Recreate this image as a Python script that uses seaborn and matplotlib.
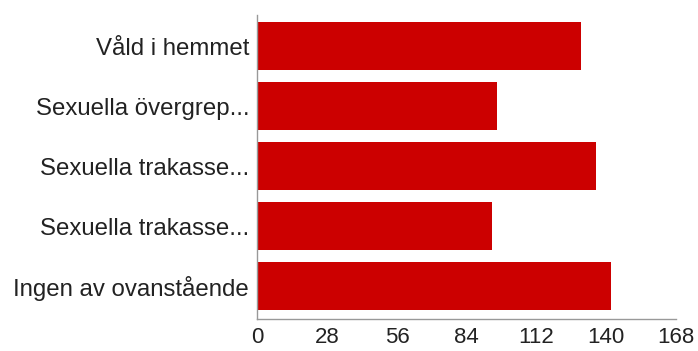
import pandas as pd
import matplotlib
matplotlib.use("Agg")
import matplotlib.pyplot as plt
import seaborn as sns

# data
labels = ["Våld i hemmet", "Sexuella övergrep...", "Sexuella trakasse...",
          "Sexuella trakasse...", "Ingen av ovanstående"]
counts = [130, 96, 136, 94, 142]
xticks = [0, 28, 56, 84, 112, 140, 168]

sns.set_style("white")
plt.rcParams['font.family'] = ['Liberation Sans', 'DejaVu Sans']

df = pd.DataFrame({"pos": list(range(len(labels))), "count": counts})

fig = plt.figure(figsize=(6.98, 3.51), dpi=100)
ax = fig.add_axes([0.3687, 0.0912, 0.6, 0.866])
sns.barplot(data=df, x="count", y="pos", orient="h", color="#cc0000",
            saturation=1, width=0.8, edgecolor="none", ax=ax)

ax.set_xlim(0, 168)
ax.set_ylim(4.55, -0.52)
ax.set_xticks(xticks)
ax.set_yticks(range(len(labels)))
ax.set_yticklabels(labels)
ax.set_xlabel("")
ax.set_ylabel("")

for s in ["top", "right"]:
    ax.spines[s].set_visible(False)
for s in ["left", "bottom"]:
    ax.spines[s].set_color("#999999")
    ax.spines[s].set_linewidth(1)

ax.tick_params(axis="both", colors="#999999", length=4, width=1,
               labelcolor="#222222")
ax.tick_params(axis="y", pad=2, labelsize=17.3)
ax.tick_params(axis="x", pad=2, labelsize=16)

plt.savefig("out.png", dpi=100)
plt.close()
